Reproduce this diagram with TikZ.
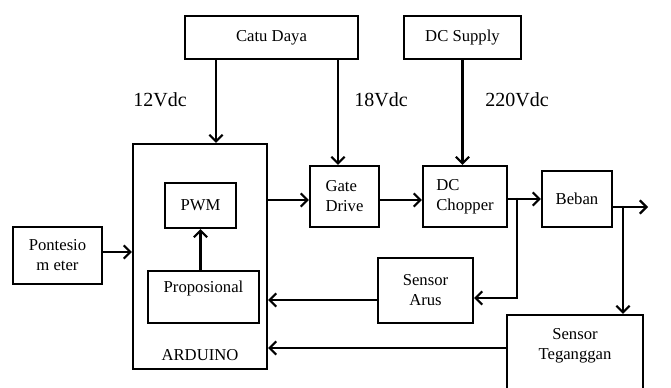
\documentclass[tikz,border=0pt]{standalone}
\usepackage{fontspec}
\setmainfont{Liberation Serif}
\usepackage{tikz}
\usetikzlibrary{arrows.meta}
\def\pxu{0.75pt}
\tikzset{
    blok/.style={
        draw, line width=1.6pt, inner sep=0pt,
        font=\fontsize{12.5}{15}\selectfont
    },
    lab/.style={
        font=\fontsize{15}{18}\selectfont
    },
    arr/.style={
        line width=1.6pt, -{Straight Barb[length=5pt,width=10pt,line width=1.6pt]}
    }
}

\begin{document}
\begin{tikzpicture}[x=0.75pt,y=-0.75pt, line cap=round, line join=miter]

\useasboundingbox (0,0) rectangle (671,387);

% sumber
\node[blok, minimum width=173*\pxu, minimum height=43*\pxu] (catu) at (271.5,37.5) {Catu Daya};
\node[blok, minimum width=117*\pxu, minimum height=43*\pxu] (dcs) at (462.5,37.5) {DC Supply};

% arduino dan isinya
\node[blok, minimum width=134*\pxu, minimum height=225*\pxu] (ard) at (200,256.5) {};
\node[blok, minimum width=71*\pxu, minimum height=45*\pxu] (pwm) at (200.5,205.5) {PWM};
\node[blok, minimum width=111*\pxu, minimum height=52*\pxu, align=center] (prop) at (203.5,297) {Proposional\\~};
\node[font=\fontsize{12.5}{15}\selectfont] (ardlab) at (200,355) {ARDUINO};

\node[blok, minimum width=89*\pxu, minimum height=57*\pxu, align=center] (pont) at (57.5,255.5) {Pontesio\\m eter};
\node[blok, minimum width=69*\pxu, minimum height=61*\pxu, align=left] (gate) at (344.5,196.5) {Gate\\Drive};
\node[blok, minimum width=84*\pxu, minimum height=61*\pxu, align=left] (chop) at (465,196.5) {DC\\Chopper};
\node[blok, minimum width=70*\pxu, minimum height=56*\pxu] (beban) at (577,199) {Beban};
\node[blok, minimum width=95*\pxu, minimum height=65*\pxu, align=center] (sarus) at (425.5,290.5) {Sensor\\Arus};
\node[blok, minimum width=136*\pxu, minimum height=78*\pxu, align=center] (steg) at (575,354) {Sensor\\Teganggan\\~};

% label tegangan
\node[lab] (v12) at (160,100) {12Vdc};
\node[lab] (v18) at (381,100) {18Vdc};
\node[lab] (v220) at (517,100) {220Vdc};

% titik bantu
\coordinate (x12) at (216,0);
\coordinate (x18) at (338,0);
\coordinate (yg) at (0,200);
\coordinate (xc) at (517,0);
\coordinate (ya) at (0,298);
\coordinate (yarus) at (0,300);
\coordinate (yteg) at (0,348);
\coordinate (ypot) at (0,252);
\coordinate (out) at (648,207);
\coordinate (xb) at (623,0);

% panah
\draw[arr] (x12 |- catu.south) -- (x12 |- ard.north);
\draw[arr] (x18 |- catu.south) -- (x18 |- gate.north);
\draw[arr] (dcs.south) -- (dcs.south |- chop.north);
\draw[arr] (pont.east |- ypot) -- (ard.west |- ypot);
\draw[arr] (prop.north -| pwm.south) -- (pwm.south);
\draw[arr] (ard.east |- yg) -- (gate.west |- yg);
\draw[arr] (gate.east |- yg) -- (chop.west |- yg);
\draw[arr] (chop.east |- beban.west) -- (beban.west);
\draw[arr] (xc |- beban.west) -- (xc |- ya) -- (sarus.east |- ya);
\draw[arr] (beban.east |- out) -- (out);
\draw[arr] (xb |- out) -- (xb |- steg.north);
\draw[arr] (sarus.west |- yarus) -- (ard.east |- yarus);
\draw[arr] (steg.west |- yteg) -- (ard.east |- yteg);

\end{tikzpicture}
\end{document}
